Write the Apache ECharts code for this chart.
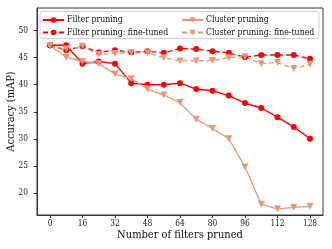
<!DOCTYPE html>
<html>
<head>
<meta charset="utf-8">
<script src="https://cdn.jsdelivr.net/npm/echarts@6/dist/echarts.min.js"></script>
<style>html,body{margin:0;padding:0;background:#fff}#c{width:332px;height:249px}</style>
</head>
<body>
<div id="c"></div>
<script>
const xValues = [0,8,16,24,32,40,48,56,64,72,80,88,96,104,112,120,128];
const xTicks = [0,16,32,48,64,80,96,112,128];
const yTicks = [20,25,30,35,40,45,50];
const filterPruning = [47.3,47.3,43.9,44.3,43.9,40.3,40.0,40.0,40.3,39.2,38.9,38.0,36.6,35.7,34.0,32.2,30.0];
const filterFineTuned = [47.3,46.4,47.1,46.0,46.4,46.0,46.2,45.9,46.7,46.6,46.2,45.9,45.1,45.5,45.5,45.5,44.8];
const clusterPruning = [47.2,45.1,44.3,43.9,42.0,41.1,39.2,38.1,36.7,33.6,31.9,30.0,24.8,17.9,17.0,17.3,17.5];
const clusterFineTuned = [47.2,46.6,47.1,45.6,45.8,45.9,45.9,45.0,44.4,44.4,44.5,45.0,45.2,43.9,44.1,43.0,43.8];

const RED = '#ff0000';
const SAL = '#e9967a';
const FONT = '"DejaVu Serif Condensed", "DejaVu Serif", serif';
const pairs = arr => arr.map((v,i)=>[xValues[i], v]);

function mk(name, data, color, dashed, tri){
  return {
    name, type:'line', data: pairs(data),
    symbol: tri ? 'triangle' : 'circle',
    symbolRotate: tri ? 180 : 0,
    symbolSize: tri ? 7 : 6,
    showSymbol: true,
    itemStyle:{color},
    lineStyle:{color, width: tri ? 1.3 : 1.4, type: dashed ? [5,3] : 'solid'},
    emphasis:{disabled:true},
    animation:false
  };
}

const chart = echarts.init(document.getElementById('c'), null, {renderer:'canvas'});
chart.setOption({
  animation:false,
  textStyle:{fontFamily:FONT},
  grid:{left:37, right:9, top:8, bottom:34, outerBoundsMode:'none', containLabel:false, show:true, borderColor:'#333', borderWidth:1, backgroundColor:'transparent'},
  graphic:[{type:'rect', shape:{x:40, y:11.5, width:279, height:27, r:2}, style:{fill:'rgba(255,255,255,0.8)', stroke:'#d0d0d0', lineWidth:1}, z:50}],
  legend:[
    {data:['Filter pruning','Filter pruning: fine-tuned'], orient:'vertical', left:42, top:15.5, padding:0, itemWidth:21, itemHeight:7, itemGap:3.5,
     textStyle:{fontFamily:FONT, fontSize:8.7, color:'#111', padding:[0,0,0,-2]}, z:60, selectedMode:false},
    {data:['Cluster pruning','Cluster pruning: fine-tuned'], orient:'vertical', left:181, top:15.5, padding:0, itemWidth:21, itemHeight:7, itemGap:3.5,
     textStyle:{fontFamily:FONT, fontSize:8.7, color:'#111', padding:[0,0,0,-2]}, z:60, selectedMode:false}
  ],
  xAxis:{type:'value', min:-6.4, max:134.4,
    name:'Number of filters pruned', nameLocation:'middle', nameGap:14.5, nameMoveOverlap:false,
    nameTextStyle:{fontFamily:FONT, fontSize:11, color:'#111'},
    axisLine:{show:true, onZero:false, lineStyle:{color:'#333'}},
    axisTick:{show:true, length:3, customValues:xTicks, lineStyle:{color:'#333'}},
    axisLabel:{customValues:xTicks, fontFamily:FONT, fontSize:8.3, color:'#222', margin:5},
    splitLine:{show:false}},
  yAxis:{type:'value', min:15.9, max:54.2,
    name:'Accuracy (mAP)', nameLocation:'middle', nameGap:20, nameMoveOverlap:false,
    nameTextStyle:{fontFamily:FONT, fontSize:11, color:'#111'},
    axisLine:{show:true, onZero:false, lineStyle:{color:'#333'}},
    axisTick:{show:true, length:3, customValues:yTicks, lineStyle:{color:'#333'}},
    axisLabel:{customValues:yTicks, fontFamily:FONT, fontSize:8.3, color:'#222', margin:9},
    splitLine:{show:false}},
  series:[
    mk('Filter pruning', filterPruning, RED, false, false),
    mk('Filter pruning: fine-tuned', filterFineTuned, RED, true, false),
    mk('Cluster pruning', clusterPruning, SAL, false, true),
    mk('Cluster pruning: fine-tuned', clusterFineTuned, SAL, true, true)
  ]
});
</script>
</body>
</html>
